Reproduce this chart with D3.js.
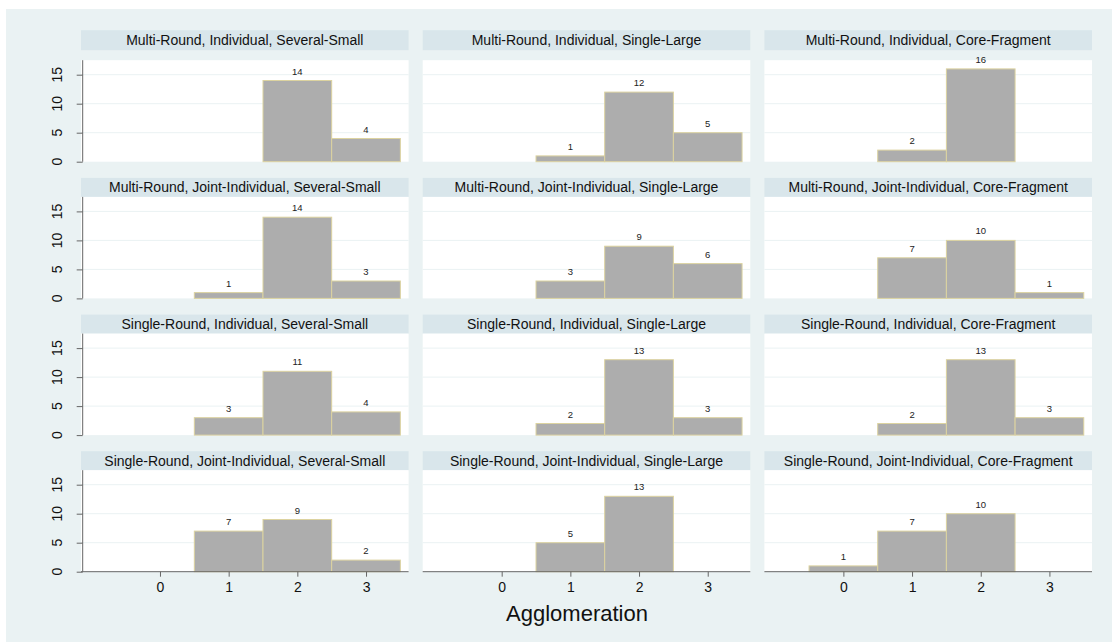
<!DOCTYPE html>
<html>
<head>
<meta charset="utf-8">
<script src="https://cdn.jsdelivr.net/npm/d3@7"></script>
<style>
  html, body { margin: 0; padding: 0; background: #ffffff; }
  svg { display: block; font-family: "Liberation Sans", Arial, sans-serif; }
</style>
</head>
<body>
<svg id="chart" width="1112" height="642"></svg>
<script>
// Histogram of Agglomeration, one panel per treatment (rows x columns)
const categories = [0, 1, 2, 3];
const yTicks = [0, 5, 10, 15];
const xTitle = "Agglomeration";

const rowLabels = ["Multi-Round, Individual", "Multi-Round, Joint-Individual",
                   "Single-Round, Individual", "Single-Round, Joint-Individual"];
const colLabels = ["Several-Small", "Single-Large", "Core-Fragment"];

// counts per category 0..3 for each panel
const mrIndSeveralSmall   = [0, 0, 14, 4];
const mrIndSingleLarge    = [0, 1, 12, 5];
const mrIndCoreFragment   = [0, 2, 16, 0];
const mrJointSeveralSmall = [0, 1, 14, 3];
const mrJointSingleLarge  = [0, 3, 9, 6];
const mrJointCoreFragment = [0, 7, 10, 1];
const srIndSeveralSmall   = [0, 3, 11, 4];
const srIndSingleLarge    = [0, 2, 13, 3];
const srIndCoreFragment   = [0, 2, 13, 3];
const srJointSeveralSmall = [0, 7, 9, 2];
const srJointSingleLarge  = [0, 5, 13, 0];
const srJointCoreFragment = [1, 7, 10, 0];

const panelCounts = [
  [mrIndSeveralSmall, mrIndSingleLarge, mrIndCoreFragment],
  [mrJointSeveralSmall, mrJointSingleLarge, mrJointCoreFragment],
  [srIndSeveralSmall, srIndSingleLarge, srIndCoreFragment],
  [srJointSeveralSmall, srJointSingleLarge, srJointCoreFragment]
];

const svg = d3.select("#chart");

// graph region background
svg.append("rect").attr("x", 6).attr("y", 9).attr("width", 1106).attr("height", 633)
  .attr("fill", "#eaf2f3");

// layout
const colLeft = [81, 422.7, 764.4];
const panelW = 327.6;
const zeroY = [161.7, 298.4, 435.1, 571.7];
const plotH = 101.5;
const stripH = 19;
const xDomain = [-1.15, 3.62];
const yDomain = [0, 17.5];

rowLabels.forEach((rl, r) => {
  colLabels.forEach((cl, c) => {
    const x0 = colLeft[c];
    const x = d3.scaleLinear().domain(xDomain).range([x0, x0 + panelW]);
    const y = d3.scaleLinear().domain(yDomain).range([zeroY[r], zeroY[r] - plotH]);
    const top = y(yDomain[1]);
    const g = svg.append("g");

    // subtitle strip
    const stripTop = r === 0 ? top - 10 - 20 : top - stripH;
    const sh = r === 0 ? 20 : stripH;
    g.append("rect").attr("x", x0).attr("y", stripTop).attr("width", panelW).attr("height", sh)
      .attr("fill", "#d9e6eb");
    g.append("text").attr("x", x0 + panelW / 2).attr("y", stripTop + sh / 2 + 5)
      .attr("text-anchor", "middle").attr("font-size", 14).attr("fill", "#111")
      .text(rl + ", " + cl);

    // plot region
    g.append("rect").attr("x", x0).attr("y", top).attr("width", panelW)
      .attr("height", zeroY[r] - top).attr("fill", "#ffffff");

    // gridlines
    g.selectAll("line.grid").data(yTicks.filter(v => v > 0)).join("line")
      .attr("x1", x0).attr("x2", x0 + panelW)
      .attr("y1", d => y(d)).attr("y2", d => y(d))
      .attr("stroke", "#eaf2f3").attr("stroke-width", 1);

    // bars
    const counts = panelCounts[r][c];
    const bins = categories.map((k, i) => ({ k, n: counts[i] })).filter(d => d.n > 0);
    g.selectAll("rect.bar").data(bins).join("rect")
      .attr("x", d => x(d.k - 0.5)).attr("width", d => x(d.k + 0.5) - x(d.k - 0.5))
      .attr("y", d => y(d.n)).attr("height", d => y(0) - y(d.n))
      .attr("fill", "#adadad").attr("stroke", "#dcd3a0").attr("stroke-width", 1);
    g.selectAll("text.lab").data(bins).join("text")
      .attr("x", d => x(d.k)).attr("y", d => y(d.n) - 6)
      .attr("text-anchor", "middle").attr("font-size", 9.5).attr("fill", "#222")
      .text(d => d.n);

    // y axis on the first column
    if (c === 0) {
      const ya = g.append("g").attr("transform", `translate(${x0 + 1.7},0)`)
        .call(d3.axisLeft(y).tickValues(yTicks).tickSize(6).tickFormat(""));
      ya.select(".domain").attr("stroke", "#666").attr("d", `M0,${top}V${zeroY[r]}`);
      ya.selectAll(".tick line").attr("stroke", "#666");
      g.selectAll("text.ytick").data(yTicks).join("text")
        .attr("transform", d => `translate(${x0 - 19},${y(d)}) rotate(-90)`)
        .attr("text-anchor", "middle").attr("font-size", 14).attr("fill", "#111")
        .text(d => d);
    }

    // x axis on the bottom row
    if (r === rowLabels.length - 1) {
      const xa = g.append("g").attr("transform", `translate(0,${zeroY[r]})`)
        .call(d3.axisBottom(x).tickValues(categories).tickSize(5).tickPadding(5).tickFormat(d3.format("d")));
      xa.select(".domain").attr("stroke", "#666").attr("d", `M${x0},0H${x0 + panelW}`);
      xa.selectAll(".tick line").attr("stroke", "#666");
      xa.selectAll(".tick text").attr("font-size", 14).attr("fill", "#111")
        .attr("font-family", "Liberation Sans, Arial, sans-serif");
    }
  });
});

// x-axis title
svg.append("text").attr("x", 577).attr("y", 621).attr("text-anchor", "middle")
  .attr("font-size", 22).attr("fill", "#111").text(xTitle);
</script>
</body>
</html>
